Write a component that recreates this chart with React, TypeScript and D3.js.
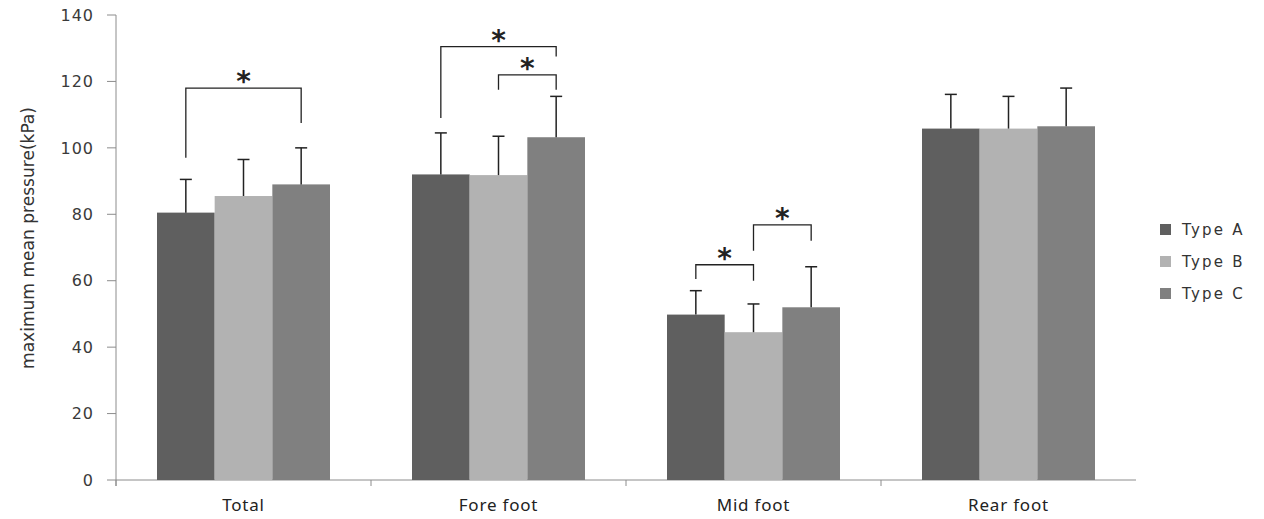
import React, { useEffect, useRef } from "react";
import * as d3 from "d3";

// data
const categories = ["Total", "Fore foot", "Mid foot", "Rear foot"];
const seriesNames = ["Type A", "Type B", "Type C"];
const colors = ["#5f5f5f", "#b2b2b2", "#808080"];
const typeA = [80.5, 92, 49.8, 105.8];
const typeB = [85.5, 91.8, 44.5, 105.8];
const typeC = [89, 103.2, 52, 106.5];
const errA = [10, 12.5, 7.2, 10.3];
const errB = [11, 11.7, 8.5, 9.7];
const errC = [11, 12.3, 12.2, 11.5];
const yTicks = [0, 20, 40, 60, 80, 100, 120, 140];

// significance brackets: category, from series, to series, top, left leg end, right leg end
const brackets = [
  { cat: 0, from: 0, to: 2, top: 118, left: 97, right: 107.5 },
  { cat: 1, from: 0, to: 2, top: 130.5, left: 109, right: 127.5 },
  { cat: 1, from: 1, to: 2, top: 122, left: 117.5, right: 117.5 },
  { cat: 2, from: 0, to: 1, top: 64.8, left: 60.5, right: 60 },
  { cat: 2, from: 1, to: 2, top: 76.8, left: 69, right: 72 },
];

const W = 1264, H = 519;
const margin = { top: 15, left: 116, right: 128, bottom: 39 };

export default function App() {
  const ref = useRef<SVGSVGElement>(null);

  useEffect(() => {
    const svg = d3.select(ref.current);
    svg.selectAll("*").remove();

    const width = W - margin.left - margin.right;
    const height = H - margin.top - margin.bottom;
    const g = svg.append("g").attr("transform", `translate(${margin.left},${margin.top})`);

    const x = d3.scaleBand().domain(categories).range([0, width]).paddingInner(0).paddingOuter(0);
    const x1 = d3.scaleBand().domain(seriesNames).range([41, x.bandwidth() - 41]).padding(0);
    const y = d3.scaleLinear().domain([0, 140]).range([height, 0]);

    const values = [typeA, typeB, typeC];
    const errs = [errA, errB, errC];

    // y axis
    g.append("line").attr("x1", 0).attr("x2", 0).attr("y1", 0).attr("y2", height + 6)
      .attr("stroke", "#8c8c8c").attr("stroke-width", 1);
    yTicks.forEach((t) => {
      g.append("line").attr("x1", -9).attr("x2", 0).attr("y1", y(t)).attr("y2", y(t))
        .attr("stroke", "#8c8c8c");
      g.append("text").attr("x", -22).attr("y", y(t)).attr("dy", "0.36em")
        .attr("text-anchor", "end").attr("font-family", "DejaVu Sans, Verdana, sans-serif")
        .attr("font-size", 16).attr("letter-spacing", 1).attr("fill", "#3a3a3a").text(t);
    });

    // x axis
    g.append("line").attr("x1", 0).attr("x2", width).attr("y1", height).attr("y2", height)
      .attr("stroke", "#8c8c8c");
    categories.forEach((c) => {
      const xx = x(c)!;
      g.append("line").attr("x1", xx).attr("x2", xx).attr("y1", height).attr("y2", height + 6)
        .attr("stroke", "#8c8c8c");
      g.append("text").attr("x", xx + x.bandwidth() / 2).attr("y", height + 31)
        .attr("text-anchor", "middle").attr("font-family", "Noto Sans, sans-serif")
        .attr("font-size", 17).attr("letter-spacing", 0.8).attr("fill", "#222").text(c);
    });

    // bars + error bars
    values.forEach((vals, s) => {
      vals.forEach((v, i) => {
        const bx = x(categories[i])! + x1(seriesNames[s])!;
        const bw = x1.bandwidth();
        g.append("rect").attr("x", bx).attr("y", y(v)).attr("width", bw)
          .attr("height", height - y(v)).attr("fill", colors[s]);
        const cx = bx + bw / 2;
        const top = y(v + errs[s][i]);
        g.append("line").attr("x1", cx).attr("x2", cx).attr("y1", y(v)).attr("y2", top)
          .attr("stroke", "#222").attr("stroke-width", 1.5);
        g.append("line").attr("x1", cx - 6).attr("x2", cx + 6).attr("y1", top).attr("y2", top)
          .attr("stroke", "#222").attr("stroke-width", 1.5);
      });
    });

    // significance brackets
    brackets.forEach((b) => {
      const bw = x1.bandwidth();
      const xa = x(categories[b.cat])! + x1(seriesNames[b.from])! + bw / 2;
      const xb = x(categories[b.cat])! + x1(seriesNames[b.to])! + bw / 2;
      const path = d3.path();
      path.moveTo(xa, y(b.left));
      path.lineTo(xa, y(b.top));
      path.lineTo(xb, y(b.top));
      path.lineTo(xb, y(b.right));
      g.append("path").attr("d", path.toString()).attr("fill", "none")
        .attr("stroke", "#222").attr("stroke-width", 1.3);
      g.append("text").attr("x", (xa + xb) / 2).attr("y", y(b.top) + 3)
        .attr("text-anchor", "middle").attr("font-family", "DejaVu Sans, sans-serif")
        .attr("font-size", 28).attr("font-weight", "bold").attr("fill", "#222").text("*");
    });

    // y label
    svg.append("text")
      .attr("transform", `translate(34,${238}) rotate(-90)`)
      .attr("text-anchor", "middle").attr("font-family", "DejaVu Sans Condensed, Liberation Sans, sans-serif")
      .attr("font-size", 17).attr("textLength", 262).attr("lengthAdjust", "spacingAndGlyphs")
      .attr("fill", "#333").text("maximum mean pressure(kPa)");

    // legend
    const lg = svg.append("g").attr("transform", "translate(1160,230)");
    seriesNames.forEach((n, i) => {
      lg.append("rect").attr("x", 0).attr("y", i * 32 - 6).attr("width", 11).attr("height", 11)
        .attr("fill", colors[i]);
      lg.append("text").attr("x", 22).attr("y", i * 32).attr("dy", "0.36em")
        .attr("font-family", "DejaVu Sans, Verdana, sans-serif").attr("font-size", 15)
        .attr("letter-spacing", 2.2).attr("fill", "#333").text(n);
    });
  }, []);

  return (
    <div style={{ position: "absolute", left: 0, top: 0 }}>
      <svg ref={ref} width={W} height={H} style={{ display: "block", background: "#fff" }} />
    </div>
  );
}
